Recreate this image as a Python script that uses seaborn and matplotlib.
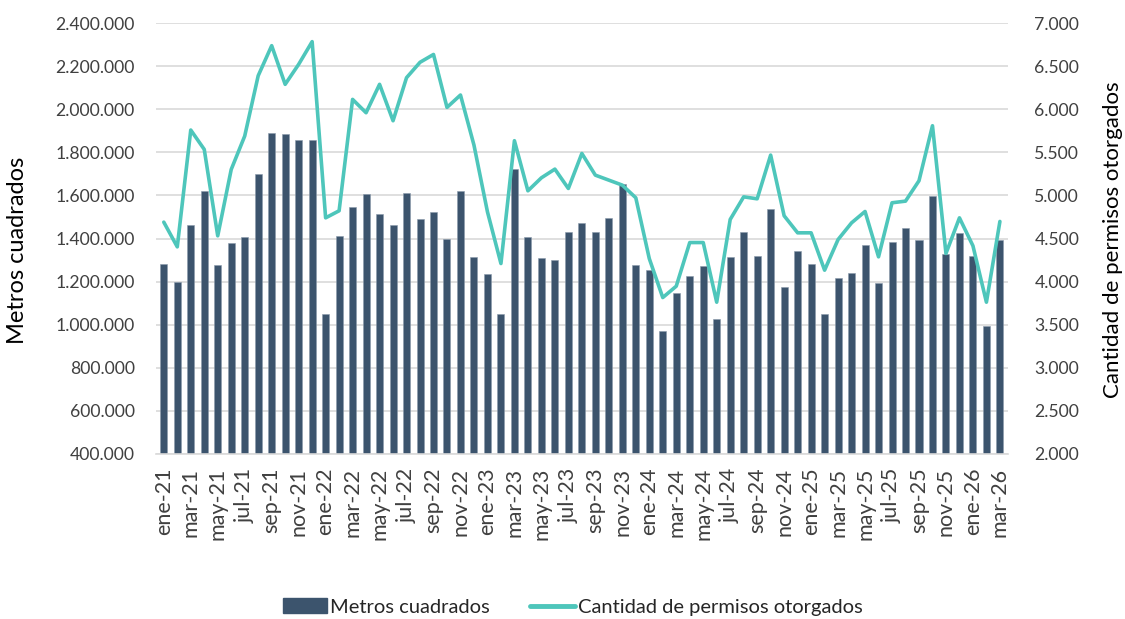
import matplotlib
matplotlib.use("Agg")
import matplotlib.pyplot as plt
import seaborn as sns
import numpy as np
import pandas as pd
from matplotlib.ticker import FuncFormatter, MultipleLocator
from matplotlib.patches import Patch
from matplotlib.lines import Line2D

meses = ["ene", "feb", "mar", "abr", "may", "jun", "jul", "ago", "sep", "oct", "nov", "dic"]
years = ["21", "22", "23", "24", "25", "26"]
categories = [f"{m}-{y}" for y in years for m in meses][:63]

metros = [
    1281000, 1200000, 1464000, 1623000, 1278000, 1380000, 1405000, 1701000, 1888000, 1885000, 1860000, 1857000,
    1047000, 1411000, 1547000, 1608000, 1512000, 1465000, 1612000, 1490000, 1521000, 1397000, 1620000, 1315000,
    1236000, 1050000, 1721000, 1405000, 1310000, 1298000, 1431000, 1474000, 1428000, 1493000, 1653000, 1278000,
    1253000, 971000, 1149000, 1228000, 1273000, 1025000, 1314000, 1428000, 1319000, 1536000, 1175000, 1340000,
    1281000, 1050000, 1216000, 1240000, 1369000, 1192000, 1384000, 1448000, 1395000, 1598000, 1330000, 1426000,
    1319000, 995000, 1394000,
]

permisos = [
    4690, 4403, 5760, 5535, 4531, 5302, 5690, 6391, 6740, 6291, 6523, 6787,
    4740, 4822, 6116, 5961, 6291, 5868, 6368, 6547, 6638, 6023, 6167, 5585,
    4810, 4209, 5636, 5054, 5205, 5306, 5081, 5488, 5236, 5178, 5120, 4973,
    4267, 3814, 3946, 4453, 4453, 3760, 4721, 4984, 4961, 5469, 4764, 4566,
    4566, 4132, 4488, 4682, 4814, 4287, 4915, 4934, 5171, 5810, 4326, 4740,
    4415, 3760, 4698,
]

bar_color = "#3c546d"
line_color = "#4ec6bb"
grid_color = "#d9d9d9"
text_color = "#404040"

sns.set_theme(style="white")
plt.rcParams["font.family"] = ["Lato", "DejaVu Sans"]

df = pd.DataFrame({"mes": categories, "metros": metros, "permisos": permisos})
df["idx"] = np.arange(len(df))

fig = plt.figure(figsize=(11.25, 6.19), dpi=100)
ax = fig.add_axes([155.7 / 1125, 1 - 453.7 / 619, (1008 - 155.7) / 1125, (453.7 - 23.3) / 619])

sns.barplot(data=df, x="mes", y="metros", color=bar_color, saturation=1, width=0.52,
            edgecolor="#8a9aab", linewidth=0.4, ax=ax, zorder=2)
ax.set_ylim(400000, 2400000)
ax.yaxis.set_major_locator(MultipleLocator(200000))
ax.yaxis.set_major_formatter(FuncFormatter(lambda v, p: f"{int(v):,}".replace(",", ".")))
ax.grid(axis="y", color=grid_color, linewidth=1.2, zorder=0)
ax.set_axisbelow(True)
for s in ["top", "right", "left"]:
    ax.spines[s].set_visible(False)
ax.spines["bottom"].set_color(grid_color)
ax.spines["bottom"].set_linewidth(1.2)
ax.set_xlim(-0.6, len(categories) - 0.4)
ax.set_xticks(range(0, len(categories), 2))
ax.set_xticklabels(categories[::2], rotation=90, fontsize=15.5, color=text_color)
ax.tick_params(axis="y", labelsize=12.7, labelcolor=text_color, length=0, pad=15)
ax.tick_params(axis="x", length=0, pad=10)
ax.set_xlabel("")
ax.set_ylabel("Metros cuadrados", fontsize=17, color="black")
ax.yaxis.set_label_coords(-0.150, 0.473)

ax2 = ax.twinx()
sns.lineplot(data=df, x="idx", y="permisos", color=line_color, linewidth=2.6, ax=ax2, zorder=3)
ax2.set_ylim(2000, 7000)
ax2.yaxis.set_major_locator(MultipleLocator(500))
ax2.yaxis.set_major_formatter(FuncFormatter(lambda v, p: f"{int(v):,}".replace(",", ".")))
ax2.tick_params(axis="y", labelsize=12.7, labelcolor=text_color, length=0, pad=19)
for s in ["top", "right", "left", "bottom"]:
    ax2.spines[s].set_visible(False)
ax2.set_xlim(-0.6, len(categories) - 0.4)
ax2.grid(False)
ax2.set_xlabel("")
ax2.set_ylabel("Cantidad de permisos otorgados", fontsize=16, color="black")
ax2.yaxis.set_label_coords(1.1115, 0.498)

handles = [Patch(facecolor=bar_color, edgecolor=bar_color),
           Line2D([0], [0], color=line_color, linewidth=3.5)]
fig.legend(handles, ["Metros cuadrados", "Cantidad de permisos otorgados"],
           loc="center", bbox_to_anchor=(0.509, 1 - 607 / 619), ncol=2, frameon=False,
           fontsize=14.5, handlelength=2.2, handleheight=0.75, columnspacing=2.0, handletextpad=0.15)

fig.savefig("out.png", dpi=100)
